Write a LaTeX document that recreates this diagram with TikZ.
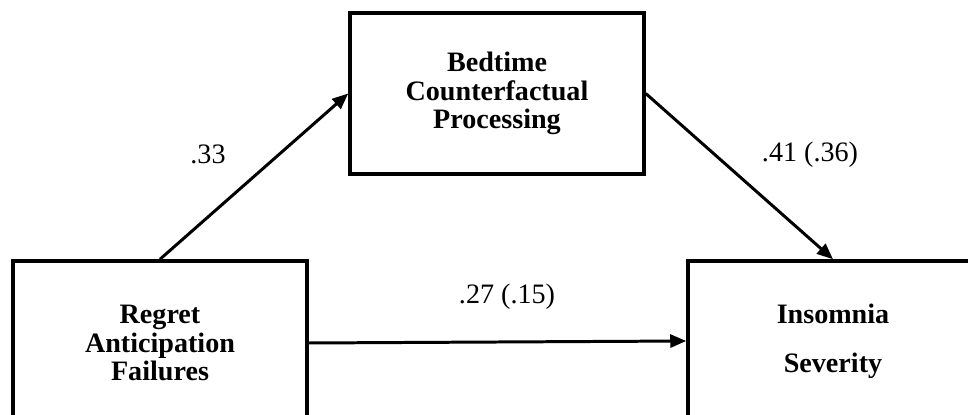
\documentclass[tikz,border=0pt]{standalone}
\usepackage{fontspec}
\setmainfont{Liberation Serif}
\usetikzlibrary{arrows.meta, positioning}
\newcommand{\pathlabel}[3]
{
	\node[draw=none] at (#1, #2) {#3};
}

\begin{document}
\begin{tikzpicture}[
	every node/.append style={font=\fontsize{16}{16.2}\selectfont},
	var/.style={draw=black, line width=2pt, align=center,
		font=\fontsize{16}{16.2}\selectfont\bfseries},
	effect/.style={line width=1.7pt, -{Triangle[length=0.32cm, width=0.26cm]}}]

	\clip (0, 0) rectangle (19.36, 8.28);

	\node[var, minimum width=5.88cm, minimum height=3.28cm] at (3.2, 1.42) (RAF){Regret\\Anticipation\\Failures};
	\node[var, minimum width=5.88cm, minimum height=3.22cm] at (9.94, 6.41) (BCP){Bedtime\\Counterfactual\\Processing};
	\node[var, minimum width=5.8cm, minimum height=3.2cm] at (16.66, 1.46) (IS){Insomnia\\[11.5pt]Severity};

	\draw[effect] (RAF.north) -- (BCP.west);
	\draw[effect] (BCP.east) -- (IS.north);
	\draw[effect] (RAF.east) -- (IS.west);

	\pathlabel{4.16}{5.2}{.33}
	\pathlabel{16.2}{5.18}{.41 (.36)}
	\pathlabel{10.14}{2.34}{.27 (.15)}
\end{tikzpicture}
\end{document}
